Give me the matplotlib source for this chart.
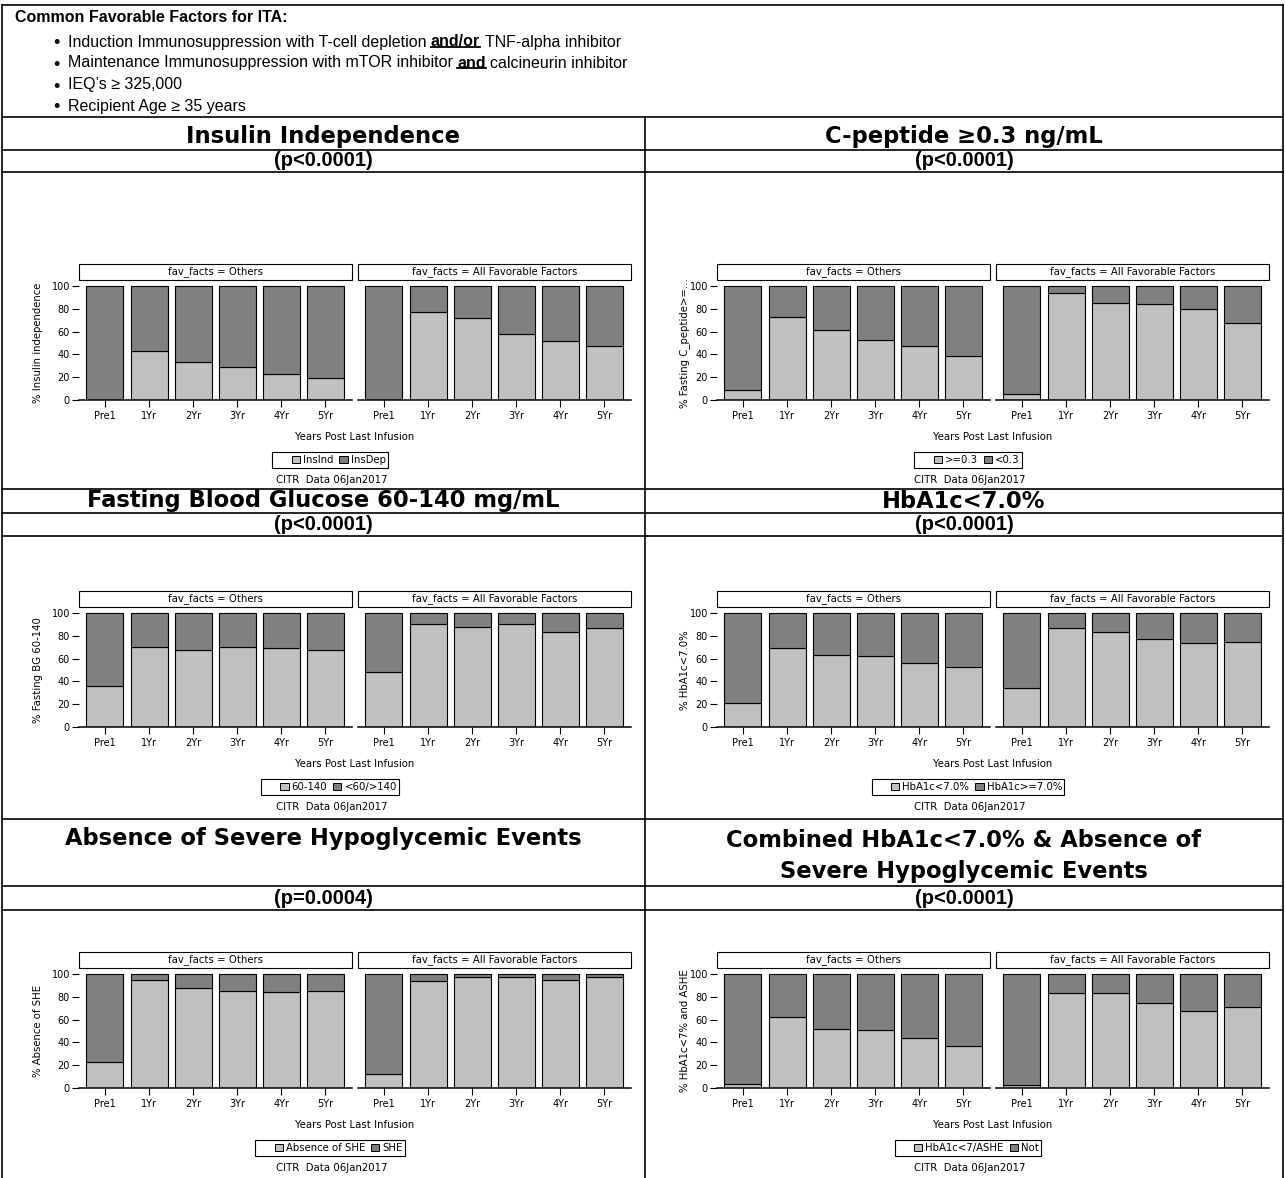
import numpy as np
import matplotlib
matplotlib.use("Agg")
import matplotlib.pyplot as plt
from matplotlib.lines import Line2D
from matplotlib.patches import Rectangle, Patch

plt.rcParams['font.family'] = ['DejaVu Sans']

W, H = 1285, 1178

years = ['Pre1', '1Yr', '2Yr', '3Yr', '4Yr', '5Yr']
facets = ['fav_facts = Others', 'fav_facts = All Favorable Factors']

# % in the "good" (light) category, Others / All Favorable Factors
ins_others = [0, 43, 33, 29, 23, 19]
ins_fav = [0, 77, 72, 58, 52, 47]
cpep_others = [9, 73, 61, 53, 47, 39]
cpep_fav = [5, 94, 85, 84.5, 80, 68]
fbg_others = [36, 70, 68, 70.5, 69, 68]
fbg_fav = [48, 90, 88, 90, 83.5, 87]
hba_others = [21, 69, 63, 62, 56, 52.5]
hba_fav = [34, 87, 83, 77, 74, 74.5]
she_others = [23, 94.5, 87.5, 85, 84.5, 85]
she_fav = [12, 94, 97, 97.5, 95, 97]
comb_others = [3.5, 62.5, 51.5, 51, 44, 37]
comb_fav = [3, 83.5, 83, 75, 68, 71]

titles = ['Insulin Independence', 'C-peptide \u22650.3 ng/mL',
          'Fasting Blood Glucose 60-140 mg/mL', 'HbA1c<7.0%',
          'Absence of Severe Hypoglycemic Events',
          'Combined HbA1c<7.0% & Absence of\nSevere Hypoglycemic Events']
pvals = ['(p<0.0001)', '(p<0.0001)', '(p<0.0001)', '(p<0.0001)',
         '(p=0.0004)', '(p<0.0001)']
ylabels = ['% Insulin independence', '% Fasting C_peptide>=...',
           '% Fasting BG 60-140', '% HbA1c<7.0%',
           '% Absence of SHE', '% HbA1c<7% and ASHE']
legends = [['InsInd', 'InsDep'], ['>=0.3', '<0.3'], ['60-140', '<60/>140'],
           ['HbA1c<7.0%', 'HbA1c>=7.0%'], ['Absence of SHE', 'SHE'],
           ['HbA1c<7/ASHE', 'Not']]
series = [(ins_others, ins_fav), (cpep_others, cpep_fav),
          (fbg_others, fbg_fav), (hba_others, hba_fav),
          (she_others, she_fav), (comb_others, comb_fav)]

light = '#c0c0c0'
dark = '#808080'

fig = plt.figure(figsize=(W / 100, H / 100), dpi=100)


def fx(x):
    return x / W


def fy(y):
    return 1 - y / H


def hline(y, x0=2, x1=1283):
    fig.add_artist(Line2D([fx(x0), fx(x1)], [fy(y), fy(y)],
                          transform=fig.transFigure, color='black', lw=1.2))


def vline(x, y0, y1=1178):
    fig.add_artist(Line2D([fx(x), fx(x)], [fy(y0), fy(y1)],
                          transform=fig.transFigure, color='black', lw=1.2))


# table grid
for y in [5, 117, 150, 172, 489, 513, 536, 819, 886, 910]:
    hline(y)
vline(2, 5)
vline(1283, 5)
vline(645, 117)

# header block
hf = ['Liberation Sans']
fig.text(fx(15), fy(18), 'Common Favorable Factors for ITA:', family=hf,
         weight='bold', size=11.5, ha='left', va='center')
bullets = [[('Induction Immunosuppression with T-cell depletion', False),
            ('and/or', True), ('TNF-alpha inhibitor', False)],
           [('Maintenance Immunosuppression with mTOR inhibitor', False),
            ('and', True), ('calcineurin inhibitor', False)],
           [('IEQ\u2019s \u2265 325,000', False)],
           [('Recipient Age \u2265 35 years', False)]]
renderer = fig.canvas.get_renderer()
space = 0.278 * 11.5 * 100 / 72
for yb, parts in zip([42, 63, 85, 106], bullets):
    fig.text(fx(53), fy(yb + 2), '\u2022', family=hf, size=13,
             ha='left', va='center')
    xc = 68
    for txt, bold in parts:
        t = fig.text(fx(xc), fy(yb), txt, family=hf, size=11.5,
                     weight='bold' if bold else 'normal',
                     ha='left', va='center')
        bb = t.get_window_extent(renderer)
        if bold:
            yu = bb.y0 + 3
            fig.add_artist(Line2D([bb.x0 / W, bb.x1 / W], [yu / H, yu / H],
                                  transform=fig.transFigure,
                                  color='black', lw=1.3))
        xc = bb.x1 + space

# titles and p-values
title_y = [136, 136, 501, 501, 839, 856]
p_y = [161, 161, 524.5, 524.5, 898, 898]
for i in range(6):
    cx = 323.5 if i % 2 == 0 else 964
    fig.text(fx(cx), fy(title_y[i]), titles[i], weight='bold', size=16.3,
             ha='center', va='center', linespacing=1.45)
    fig.text(fx(cx), fy(p_y[i]), pvals[i], family=hf, weight='bold',
             size=14.5, ha='center', va='center')

# panels
bases = [400, 400, 727, 727, 1088, 1088]
x = np.arange(len(years))
for i in range(6):
    dx = 0 if i % 2 == 0 else 638
    b = bases[i]
    for j, (fx0, vals) in enumerate(zip([79, 358], series[i])):
        ax = fig.add_axes([fx(fx0 + dx), fy(b), 273 / W, 120 / H])
        good = np.array(vals, dtype=float)
        ax.bar(x, good, width=0.84, color=light, edgecolor='black', lw=0.8)
        ax.bar(x, 100 - good, bottom=good, width=0.84, color=dark,
               edgecolor='black', lw=0.8)
        ax.set_xlim(-0.59, 5.61)
        ax.set_ylim(0, 105.3)
        for s in ['top', 'right', 'left']:
            ax.spines[s].set_visible(False)
        ax.spines['bottom'].set_linewidth(1.1)
        ax.set_xticks(x)
        ax.set_xticklabels(years, fontsize=7)
        ax.tick_params(axis='x', length=5, width=0.8, pad=3)
        if j == 0:
            ax.set_yticks(range(0, 101, 20))
            ax.tick_params(axis='y', length=5, width=0.8, pad=1.5,
                           labelsize=7)
            ylx = -41 / 273 if i % 2 == 0 else -32 / 273
            ax.text(ylx, 50 / 105.3, ylabels[i], rotation=90, fontsize=7.3,
                    ha='center', va='center', transform=ax.transAxes)
        else:
            ax.set_yticks([])
        ax.add_patch(Rectangle((0, 1), 1, 16 / 120, transform=ax.transAxes,
                               facecolor='white', edgecolor='black', lw=0.8,
                               clip_on=False))
        ax.text(0.5, 1 + 8 / 120, facets[j], fontsize=7.3, ha='center',
                va='center', transform=ax.transAxes)
    fig.text(fx(355 + dx), fy(b + 37), 'Years Post Last Infusion',
             fontsize=7.3, ha='center', va='center')
    handles = [Patch(facecolor='none', edgecolor='none'),
               Patch(facecolor=light, edgecolor='black', lw=0.7),
               Patch(facecolor=dark, edgecolor='black', lw=0.7)]
    leg = fig.legend(handles, [''] + legends[i], loc='center',
                     bbox_to_anchor=(fx(330 + dx), fy(b + 60)), ncol=3,
                     fontsize=7.3, frameon=True, fancybox=False,
                     edgecolor='black', framealpha=1, borderpad=0.25,
                     handlelength=0.8, handleheight=0.8, handletextpad=0.3,
                     columnspacing=0.6, borderaxespad=0)
    leg.get_frame().set_linewidth(0.8)
    fig.text(fx(332 + dx), fy(b + 80), 'CITR  Data 06Jan2017',
             fontsize=7.3, ha='center', va='center')

fig.savefig('out.png', dpi=100)
